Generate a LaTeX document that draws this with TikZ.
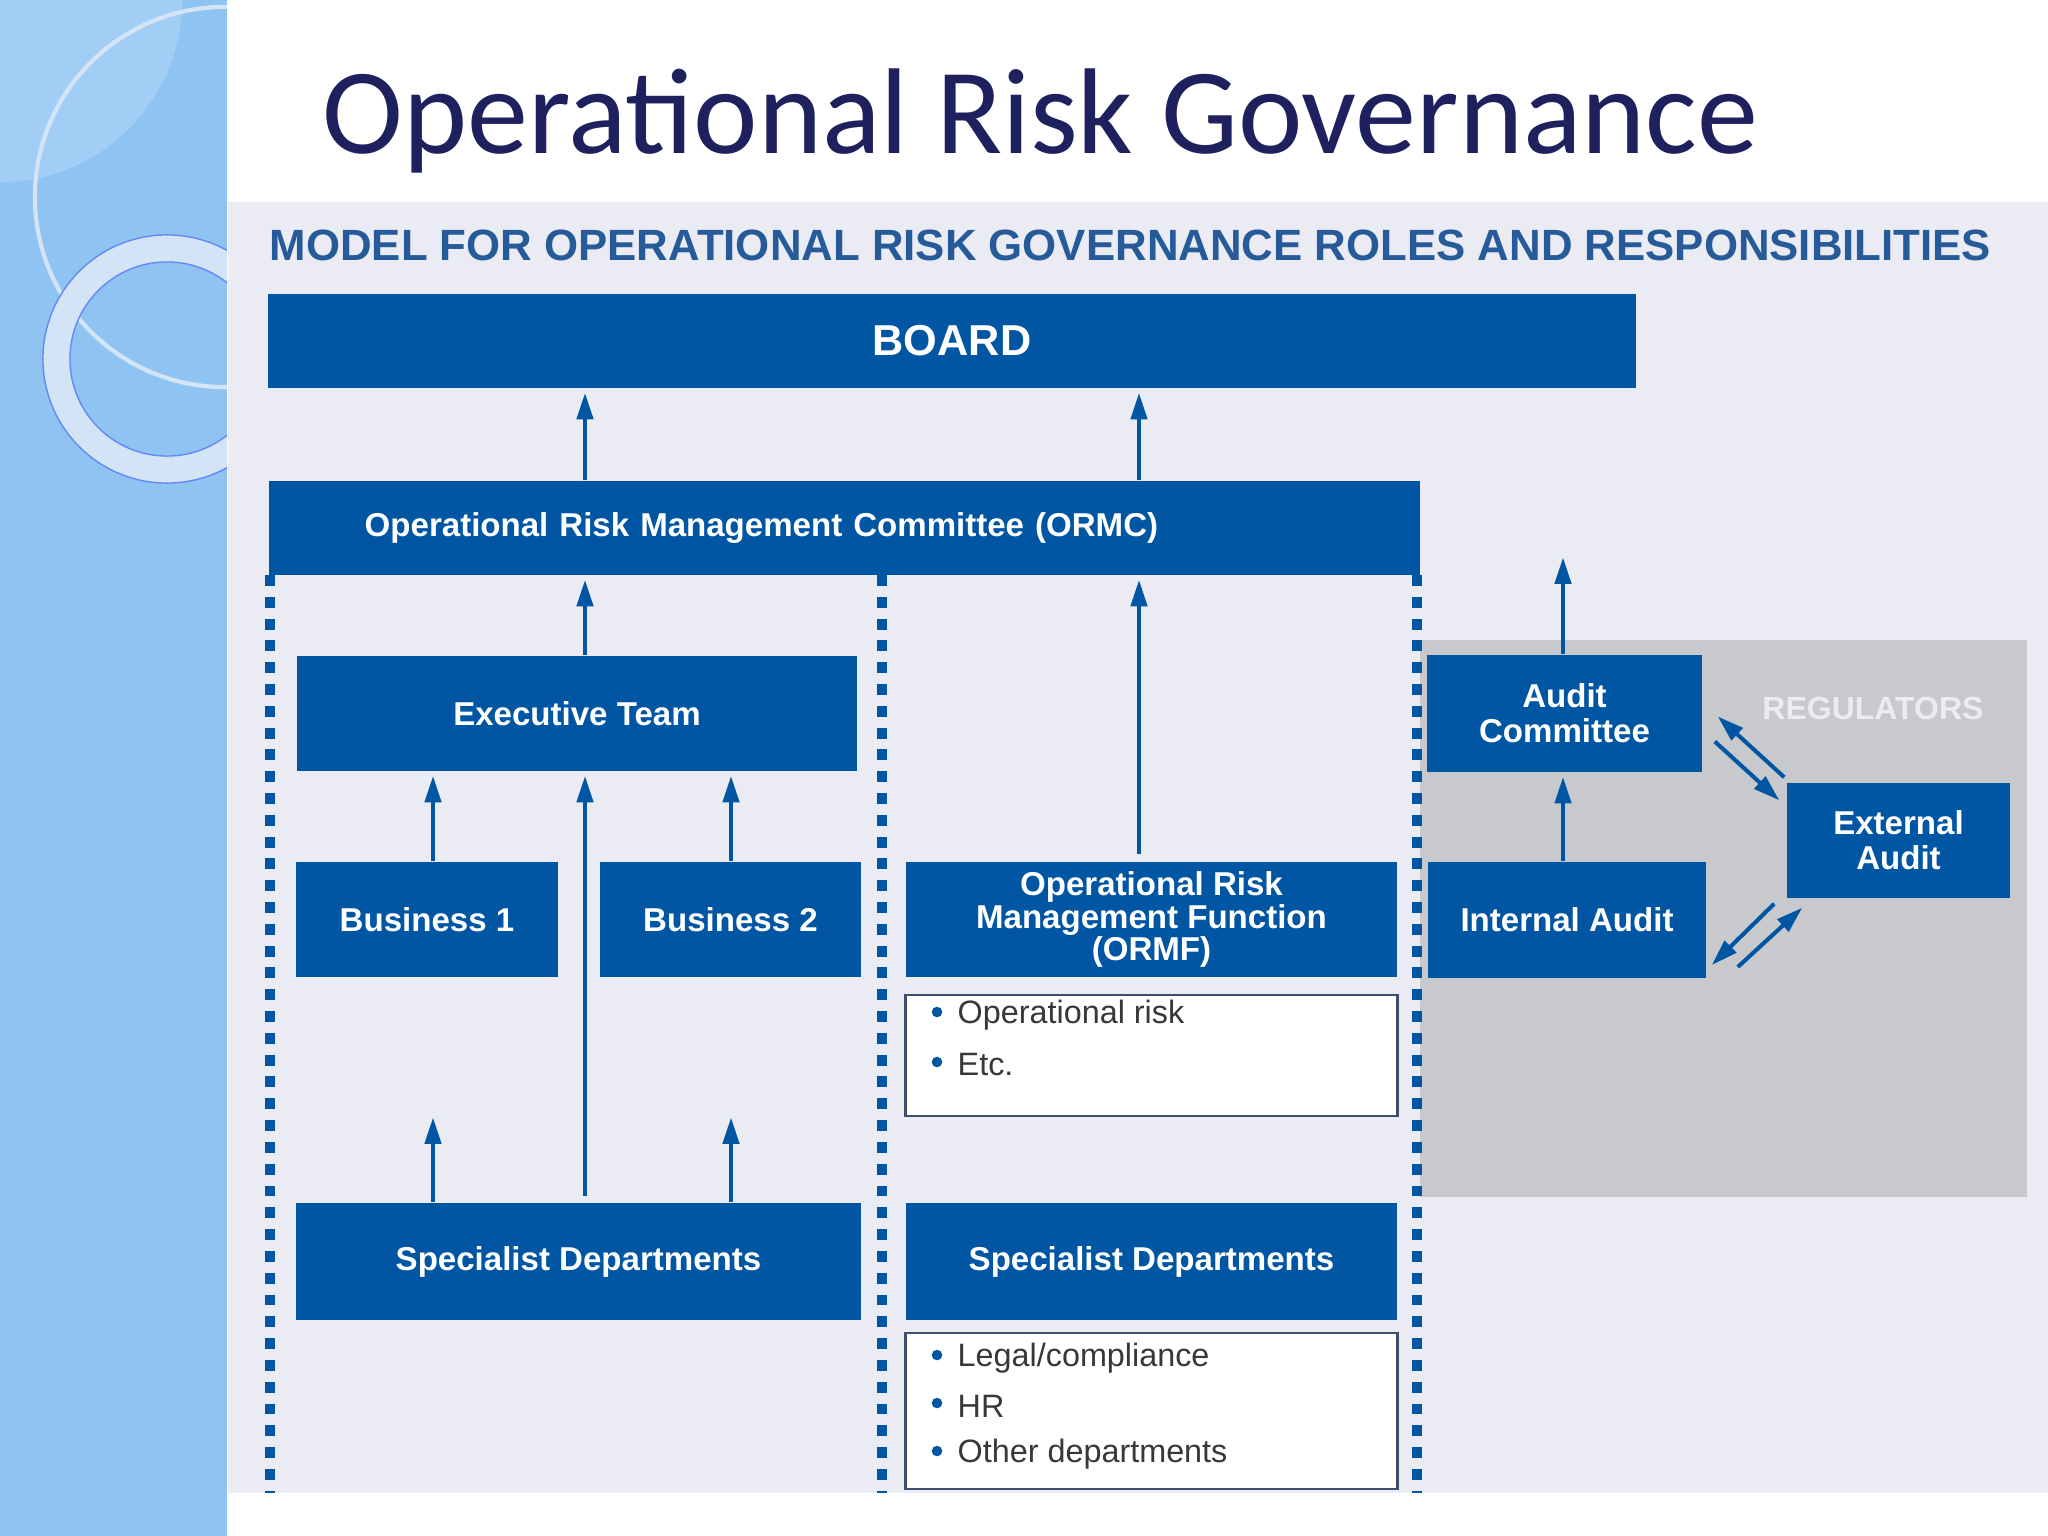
\documentclass[tikz,border=0pt]{standalone}
\usepackage{fontspec}
\setmainfont{Liberation Sans}
\newfontfamily\titlefont{Carlito}
\usetikzlibrary{arrows.meta,calc}
\definecolor{boxblue}{RGB}{0,86,163}
\definecolor{titleblue}{RGB}{31,33,94}
\definecolor{headblue}{RGB}{38,90,152}
\definecolor{paper}{RGB}{234,235,243}
\definecolor{regray}{RGB}{200,201,205}
\definecolor{regtext}{RGB}{236,236,238}
\definecolor{sideblue}{RGB}{143,196,242}
\definecolor{sidelight}{RGB}{162,206,245}
\definecolor{ringblue}{RGB}{210,228,246}
\definecolor{listtext}{RGB}{55,55,60}
\definecolor{listline}{RGB}{60,80,110}
\begin{document}
\begin{tikzpicture}[x=0.01cm,y=-0.01cm,
    blk/.style={fill=boxblue,text=white,inner sep=0pt,align=center,
      font=\fontsize{9.4}{10}\selectfont\bfseries},
    listbox/.style={draw=listline,line width=0.8pt,fill=white,inner sep=0pt},
    itm/.style={anchor=west,text=listtext,inner sep=0pt,font=\fontsize{9.2}{10}\selectfont},
    arr/.style={draw=boxblue,line width=1.15pt,-{Triangle[length=7.5pt,width=4.6pt]},shorten >=1.2pt},
    sepline/.style={draw=boxblue,line width=2.9pt,dash pattern=on 3.1pt off 3.1pt}]
  \useasboundingbox (0,0) rectangle (2048,1536);
  \fill[white] (0,0) rectangle (2048,1536);
  % side panel
  \fill[sideblue] (0,0) rectangle (227,1536);
  \scope
  \clip (0,0) rectangle (227,1536);
  \fill[sidelight] (0,0) circle (1.82cm);
  \draw[ringblue,line width=1.2pt] (225,197) circle (1.9cm);
  \draw[ringblue,line width=7.7pt] (167,359) circle (1.105cm);
  \draw[sideblue!70!blue,line width=0.4pt] (167,359) circle (1.24cm) (167,359) circle (0.97cm);
  \endscope
  % title and sheet
  \node[anchor=base west,inner sep=0pt,text=titleblue,font=\titlefont\fontsize{34.7}{40}\selectfont]
    (title) at (322,153) {Operational Risk Governance};
  \fill[paper] (228,202) rectangle (2048,1493);
  \fill[regray] (1420,640) rectangle (2027,1197);
  \node[anchor=base west,inner sep=0pt,text=headblue,font=\fontsize{12.45}{14}\selectfont\bfseries]
    (heading) at (269,260) {MODEL FOR OPERATIONAL RISK GOVERNANCE ROLES AND RESPONSIBILITIES};
  \foreach \x in {270,882,1417} \draw[sepline] (\x,575) -- (\x,1493);
  % boxes
  \node[blk,minimum width=13.68cm,minimum height=0.94cm,font=\fontsize{12.3}{14}\selectfont\bfseries]
    (board) at (952,341) {BOARD};
  \node[blk,minimum height=0.94cm,text width=9.59cm,inner xsep=0.96cm,align=left]
    (ormc) at (844.5,528) {Operational Risk Management Committee (ORMC)};
  \node[blk,minimum width=5.6cm,minimum height=1.15cm] (exec) at (577,713.5) {Executive Team};
  \node[blk,minimum width=2.62cm,minimum height=1.15cm] (bus1) at (427,919.5) {Business 1};
  \node[blk,minimum width=2.61cm,minimum height=1.15cm] (bus2) at (730.5,919.5) {Business 2};
  \node[blk,minimum width=4.91cm,minimum height=1.15cm,font=\fontsize{9.4}{9.2}\selectfont\bfseries]
    (ormf) at (1151.5,919.5) {Operational Risk\\Management Function\\(ORMF)};
  \node[listbox,minimum width=4.91cm,minimum height=1.21cm] (ormfitems) at (1151.5,1055.5) {};
  \node[blk,minimum width=5.65cm,minimum height=1.17cm] (spec1) at (578.5,1261.5) {Specialist Departments};
  \node[blk,minimum width=4.91cm,minimum height=1.17cm] (spec2) at (1151.5,1261.5) {Specialist Departments};
  \node[listbox,minimum width=4.91cm,minimum height=1.56cm] (specitems) at (1151.5,1411) {};
  \node[blk,minimum width=2.75cm,minimum height=1.17cm] (audcom) at (1564.5,713.5) {Audit\\Committee};
  \node[blk,minimum width=2.78cm,minimum height=1.16cm] (intaud) at (1567,920) {Internal Audit};
  \node[blk,minimum width=2.23cm,minimum height=1.15cm] (extaud) at (1898.5,840.5) {External\\Audit};
  \node[text=regtext,inner sep=0pt,font=\fontsize{9.1}{10}\selectfont\bfseries] (regs) at (1873,708) {REGULATORS};
  % lists
  \foreach \txt [count=\i] in {Operational risk,Etc.}{
    \node[itm] (oi\i) at (957,965+50*\i) {\txt};
    \fill[boxblue] ($(oi\i.west)+(-20,-3)$) circle (1.5pt);
  }
  \foreach \txt [count=\i] in {Legal/compliance,HR,Other departments}{
    \node[itm] (si\i) at (957,1310+48*\i) {\txt};
    \fill[boxblue] ($(si\i.west)+(-20,-3)$) circle (1.5pt);
  }
  % reporting lines
  \coordinate (xa) at (585,0);
  \coordinate (xb) at (1139,0);
  \coordinate (xc) at (433,0);
  \coordinate (xd) at (731,0);
  \coordinate (xe) at (1563,0);
  \draw[arr] (xa |- ormc.north) -- (xa |- board.south);
  \draw[arr] (xb |- ormc.north) -- (xb |- board.south);
  \draw[arr] (xa |- exec.north) -- (xa |- ormc.south);
  \draw[arr,shorten <=2pt] (xb |- ormf.north) -- (xb |- ormc.south);
  \draw[arr] (xc |- bus1.north) -- (xc |- exec.south);
  \draw[arr] (xd |- bus2.north) -- (xd |- exec.south);
  \draw[arr,shorten <=1.7pt] (xa |- spec1.north) -- (xa |- exec.south);
  \draw[arr] (xc |- spec1.north) -- ++(0,-89);
  \draw[arr] (xd |- spec1.north) -- ++(0,-89);
  \draw[arr] (xe |- intaud.north) -- (xe |- audcom.south);
  \draw[arr] (xe |- audcom.north) -- ++(0,-101);
  % external audit exchanges
  \draw[arr,shorten >=0pt] ($(extaud.north west)+(-2,-5)$) -- ($(audcom.east)+(15,3)$);
  \draw[arr,shorten >=0pt] ($(audcom.east)+(12,28)$) -- ($(extaud.north west)+(-7,18)$);
  \draw[arr,shorten >=0pt] ($(extaud.south west)+(-12,5)$) -- ($(intaud.east)+(5,45)$);
  \draw[arr,shorten >=0pt] ($(intaud.east)+(31,47)$) -- ($(extaud.south west)+(16,9)$);
\end{tikzpicture}
\end{document}
